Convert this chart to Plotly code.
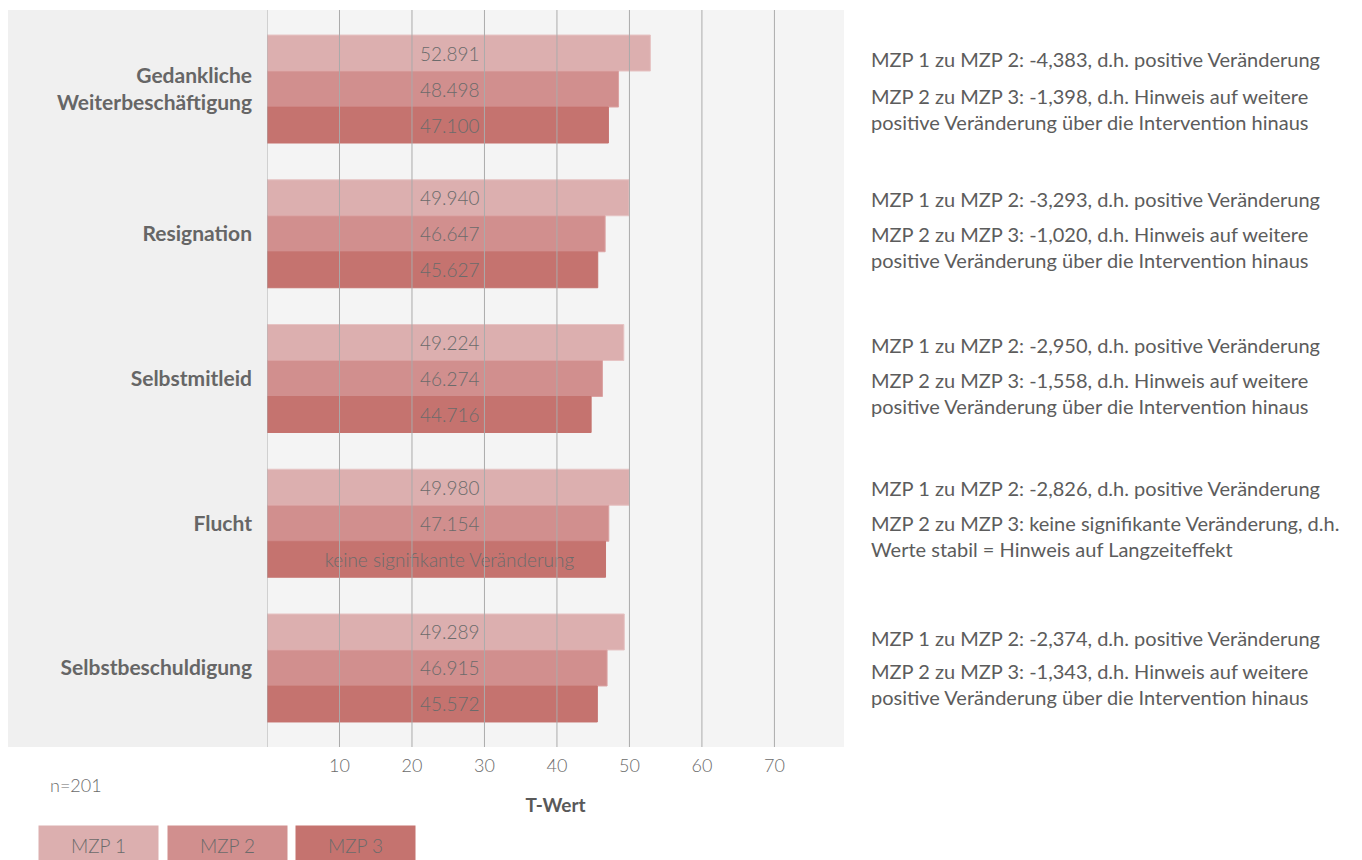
import plotly.graph_objects as go

categories = ["Gedankliche<br>Weiterbeschäftigung", "Resignation", "Selbstmitleid", "Flucht", "Selbstbeschuldigung"]
series_names = ["MZP 1", "MZP 2", "MZP 3"]
mzp1 = [52.891, 49.940, 49.224, 49.980, 49.289]
mzp2 = [48.498, 46.647, 46.274, 47.154, 46.915]
mzp3 = [47.100, 45.627, 44.716, 46.7, 45.572]
mzp1_labels = ["52.891", "49.940", "49.224", "49.980", "49.289"]
mzp2_labels = ["48.498", "46.647", "46.274", "47.154", "46.915"]
mzp3_labels = ["47.100", "45.627", "44.716", "keine signifikante Veränderung", "45.572"]
tick_vals = [10, 20, 30, 40, 50, 60, 70]
grid_vals = [0, 10, 20, 30, 40, 50, 60, 70]

line1_texts = [
    "MZP 1 zu MZP 2: -4,383, d.h. positive Veränderung",
    "MZP 1 zu MZP 2: -3,293, d.h. positive Veränderung",
    "MZP 1 zu MZP 2: -2,950, d.h. positive Veränderung",
    "MZP 1 zu MZP 2: -2,826, d.h. positive Veränderung",
    "MZP 1 zu MZP 2: -2,374, d.h. positive Veränderung",
]
line2_texts = [
    "MZP 2 zu MZP 3: -1,398, d.h. Hinweis auf weitere<br>positive Veränderung über die Intervention hinaus",
    "MZP 2 zu MZP 3: -1,020, d.h. Hinweis auf weitere<br>positive Veränderung über die Intervention hinaus",
    "MZP 2 zu MZP 3: -1,558, d.h. Hinweis auf weitere<br>positive Veränderung über die Intervention hinaus",
    "MZP 2 zu MZP 3: keine signifikante Veränderung, d.h.<br>Werte stabil = Hinweis auf Langzeiteffekt",
    "MZP 2 zu MZP 3: -1,343, d.h. Hinweis auf weitere<br>positive Veränderung über die Intervention hinaus",
]
line1_shift = [30, 35, 34, 35, 30]
line2_shift = [-20, -13, -14, -13, -16]

colors = ["#dcafaf", "#d18f8e", "#c5736f"]
edge_colors = ["#e6c3c3", "#dba3a3", "#c5736f"]
FONT = "Lato"
LABEL_SPAN = 50.4  # labels are centred at half of this span (fixed column of value labels)

fig = go.Figure()
for i, (name, vals, c, ec) in enumerate(zip(series_names, [mzp1, mzp2, mzp3], colors, edge_colors)):
    fig.add_trace(go.Bar(
        y=categories, x=vals, name=name, orientation="h", offsetgroup=str(i),
        marker=dict(color=c, line=dict(color=ec, width=1)),
        hoverinfo="x+name",
    ))
for i, (name, labels) in enumerate(zip(series_names, [mzp1_labels, mzp2_labels, mzp3_labels])):
    fig.add_trace(go.Bar(
        y=categories, x=[LABEL_SPAN] * len(categories), name=name + " label", orientation="h",
        offsetgroup=str(i), marker=dict(color="rgba(0,0,0,0)", line=dict(width=0)),
        text=labels, textposition="inside", insidetextanchor="middle",
        textangle=0, constraintext="none",
        textfont=dict(family=FONT, size=19, color="#6b6b6b", weight=300),
        hoverinfo="skip",
    ))

shapes = [
    dict(type="rect", xref="paper", yref="paper", x0=(8 - 267) / 577, x1=0, y0=0, y1=1,
         fillcolor="#f0f0f0", line=dict(width=0), layer="below"),
]
for g in grid_vals:
    shapes.append(dict(type="line", xref="x", yref="paper", x0=g, x1=g, y0=0, y1=1,
                       line=dict(color="#ababab", width=1), layer="above"))

annotations = []
for cat, t1, t2, s1, s2 in zip(categories, line1_texts, line2_texts, line1_shift, line2_shift):
    annotations.append(dict(xref="paper", yref="y", x=(869 - 267) / 577, y=cat, yshift=s1,
                            text=t1, showarrow=False, xanchor="left", yanchor="middle", align="left",
                            font=dict(family=FONT, size=20, color="#5c5c5c")))
    annotations.append(dict(xref="paper", yref="y", x=(869 - 267) / 577, y=cat, yshift=s2,
                            text=t2, showarrow=False, xanchor="left", yanchor="middle", align="left",
                            font=dict(family=FONT, size=20, color="#5c5c5c")))

annotations.append(dict(xref="paper", yref="paper", x=(48 - 267) / 577, y=(747 - 785) / 737,
                        text="n=201", showarrow=False, xanchor="left", yanchor="middle",
                        font=dict(family=FONT, size=18, color="#6b6b6b", weight=300)))

legend_centers = [98.5, 227.5, 355.5]
for name, c, cx in zip(series_names, colors, legend_centers):
    annotations.append(dict(xref="paper", yref="paper", x=(cx - 267) / 577, y=(747 - 845) / 737,
                            text=name, showarrow=False, xanchor="center", yanchor="middle",
                            bgcolor=c, width=115, height=34, borderpad=2, valign="middle",
                            font=dict(family=FONT, size=19, color="#6b6b6b", weight=300)))

fig.update_layout(
    width=1354, height=852,
    margin=dict(l=259, r=518, t=2, b=113),
    paper_bgcolor="white", plot_bgcolor="#f4f4f4",
    barmode="group", bargap=0.254, bargroupgap=0,
    showlegend=False,
    shapes=shapes, annotations=annotations,
    xaxis=dict(range=[0, 79.6], tickvals=tick_vals, showgrid=False, zeroline=False,
               showline=False, ticks="outside", ticklen=2, tickcolor="rgba(0,0,0,0)",
               fixedrange=True,
               tickfont=dict(family=FONT, size=18, color="#6b6b6b", weight=300),
               title=dict(text="T-Wert", standoff=24,
                          font=dict(family=FONT, size=19, color="#595959", weight="bold"))),
    yaxis=dict(range=[4.546, -0.546], showgrid=False, zeroline=False, showline=False,
               ticks="", ticklabelstandoff=14, fixedrange=True,
               tickfont=dict(family=FONT, size=21, color="#666666", weight="bold")),
    font=dict(family=FONT),
)

fig.write_html("out.html")
